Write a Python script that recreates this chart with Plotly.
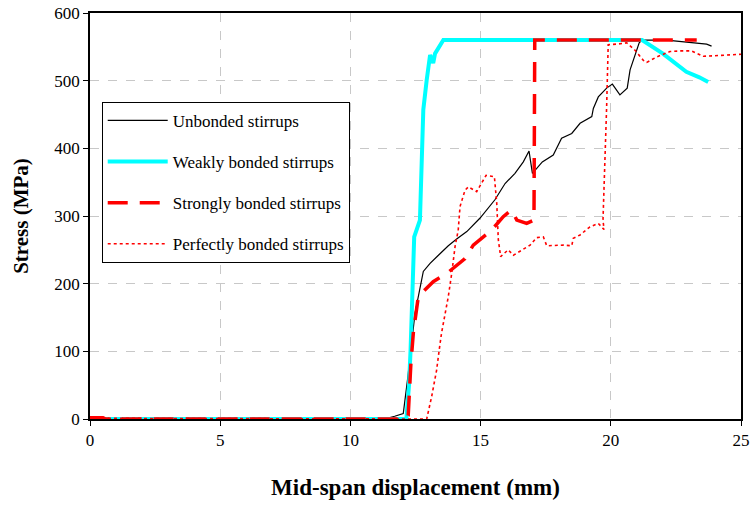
import plotly.graph_objects as go

# Unbonded stirrups
unb_x = [0, 1.8, 11.3, 11.7, 12.03, 12.2, 12.48, 12.8, 13.06, 13.38, 13.76, 14.08, 14.47, 14.98,
         15.55, 15.94, 16.32, 16.64, 16.86, 16.99, 17.37, 17.79, 18.11, 18.5, 18.82, 19.27, 19.33,
         19.52, 19.84, 20.06, 20.35, 20.63, 20.74, 21.09, 21.2, 22.14, 22.6, 23.3, 23.68, 23.87]
unb_y = [0, 0, 0, 4, 8, 60, 156, 218, 230, 242, 256, 266, 277, 297,
         324, 348, 363, 380, 396, 363, 380, 390, 415, 422, 437, 447, 459,
         476, 489, 495, 479, 489, 516, 556, 560, 560, 558, 555, 554, 551]

# Weakly bonded stirrups
wk_x = [0, 0.5, 0.7, 12.15, 12.25, 12.31, 12.36, 12.39, 12.45, 12.67, 12.76, 12.8, 12.93,
        13.06, 13.18, 13.25, 13.57, 21.2, 22.0, 22.9, 23.4, 23.74]
wk_y = [0, 1, 0, 0, 50, 101, 176, 220, 269, 294, 412, 457, 501,
        538, 526, 540, 560, 560, 540, 513, 505, 498]

# Strongly bonded stirrups
st_x = [0, 0.5, 0.6, 12.1, 12.22, 12.32, 12.42, 12.61, 13.18, 13.7, 14.4, 14.72, 15.42, 15.87,
        16.19, 16.39, 16.77, 17.05, 17.08, 23.3]
st_y = [2, 2, 0, 0, 5, 80, 129, 181, 203, 215, 237, 257, 279, 299,
        309, 294, 289, 294, 560, 560]

# Perfectly bonded stirrups
pf_x = [0, 2.9, 3.1, 12.93, 13.12, 13.31, 13.41, 13.5, 13.63, 13.76, 13.89, 14.02, 14.14, 14.21,
        14.4, 14.53, 14.85, 15.21, 15.53, 15.62, 15.68, 15.77, 16.06, 16.26, 16.9, 17.15, 17.41,
        17.54, 18.18, 18.5, 18.56, 18.82, 19.2, 19.52, 19.74, 19.7, 19.84, 19.9, 20.48, 20.61,
        20.93, 21.25, 21.38, 21.76, 22.27, 22.66, 23.1, 23.42, 23.55, 25.0]
pf_y = [1, 1, 0, 0, 33, 72, 102, 127, 154, 181, 215, 255, 279, 314,
        338, 343, 336, 360, 358, 319, 265, 240, 250, 242, 257, 268, 269,
        256, 257, 256, 267, 272, 284, 289, 280, 294, 461, 553, 555, 556,
        545, 530, 527, 535, 543, 544, 544, 538, 536, 539]

x_ticks = [0, 5, 10, 15, 20, 25]
y_ticks = [0, 100, 200, 300, 400, 500, 600]

fig = go.Figure()
fig.add_trace(go.Scatter(x=unb_x, y=unb_y, mode="lines", name="Unbonded stirrups",
                         line=dict(color="black", width=1.2), legendgroup="a"))
fig.add_trace(go.Scatter(x=wk_x, y=wk_y, mode="lines", name="Weakly bonded stirrups",
                         line=dict(color="#00FFFF", width=4), legendgroup="b"))
fig.add_trace(go.Scatter(x=st_x, y=st_y, mode="lines", name="Strongly bonded stirrups",
                         line=dict(color="#FF0000", width=3.5, dash="20px,12px"), legendgroup="c"))
fig.add_trace(go.Scatter(x=pf_x, y=pf_y, mode="lines", name="Perfectly bonded stirrups",
                         line=dict(color="#FF0000", width=1.6, dash="3px,3px"), legendgroup="d"))

font_family = "Times New Roman, Liberation Serif, serif"
axis_common = dict(showline=True, linecolor="black", linewidth=1.5, mirror=True,
                   ticks="outside", ticklen=5, tickcolor="black", automargin=False,
                   showgrid=True, gridcolor="#c8c8c8", griddash="dash", gridwidth=1,
                   zeroline=False, tickfont=dict(family=font_family, size=17, color="black"))

fig.update_layout(
    width=755, height=509,
    font=dict(family=font_family),
    margin=dict(l=90, r=14, t=13, b=90),
    paper_bgcolor="white", plot_bgcolor="white",
    xaxis=dict(range=[0, 25], tickvals=x_ticks,
               title=dict(text="<b>Mid-span displacement (mm)</b>", standoff=30,
                          font=dict(family=font_family, size=23, color="black")),
               **axis_common),
    yaxis=dict(range=[0, 600], tickvals=y_ticks,
               title=dict(text="<b>Stress (MPa)</b>", standoff=20,
                          font=dict(family=font_family, size=21, color="black")),
               **axis_common),
    legend=dict(x=0.018, y=0.781, xanchor="left", yanchor="top",
                bgcolor="white", bordercolor="black", borderwidth=1,
                font=dict(family=font_family, size=17, color="black"),
                tracegroupgap=16, itemwidth=60),
)

fig.write_html("out.html")
